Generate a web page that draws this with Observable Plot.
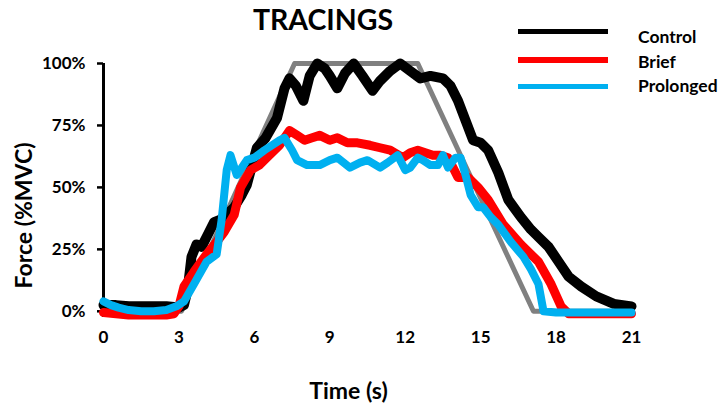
<!DOCTYPE html>
<html>
<head>
<meta charset="utf-8">
<script src="https://cdn.jsdelivr.net/npm/d3@7"></script>
<script src="https://cdn.jsdelivr.net/npm/@observablehq/plot@0.6"></script>
<style>
  html, body { margin: 0; padding: 0; background: #fff; }
  #wrap { position: relative; width: 722px; height: 406px; font-family: Lato, "Open Sans", sans-serif; }
  #title { position: absolute; left: 0; top: 3px; width: 646px; text-align: center; font-weight: bold; font-size: 28.5px; line-height: 32px; color: #000; }
  .legline { position: absolute; left: 518px; width: 90px; }
  .leglab { position: absolute; left: 638px; font-weight: bold; font-size: 17.5px; line-height: 20px; color: #000; white-space: nowrap; }
</style>
</head>
<body>
<div id="wrap"><div id="chart"></div></div>
<script>
// ----- data -----
const titleText = "TRACINGS";
const xLabel = "Time (s)";
const yLabel = "Force (%MVC)";
const xTicks = [0, 3, 6, 9, 12, 15, 18, 21];
const yTicks = [0, 25, 50, 75, 100];

const seriesNames = ["Control", "Brief", "Prolonged"];
const seriesColors = ["#000000", "#ff0000", "#00b0f0"];

const targetTime  = [0, 3.1, 7.6, 12.5, 17.1, 21];
const targetForce = [0, 0, 100, 100, 0, 0];

const controlTime  = [0, 0.5, 1, 1.5, 2, 2.5, 3, 3.2, 3.35, 3.5, 3.7, 3.9, 4.1, 4.4, 4.65, 5.0, 5.2, 5.5, 5.7, 6.1, 6.45, 6.9, 7.2, 7.4, 7.65, 7.95, 8.2, 8.5, 8.8, 9.0, 9.3, 9.6, 9.95, 10.3, 10.7, 11.0, 11.4, 11.8, 12.2, 12.6, 13.0, 13.5, 13.8, 14.1, 14.4, 14.7, 15.0, 15.3, 15.7, 16.1, 16.6, 17.0, 17.3, 17.7, 18.1, 18.5, 19.0, 19.6, 20.3, 21];
const controlForce = [2.5, 2.5, 2, 2, 2, 2, 1.5, 2.5, 9, 22, 27, 26, 30, 36, 37, 40, 42, 47, 51, 66, 70, 78, 90, 94, 91, 85, 95, 100, 98, 95, 90, 96, 100, 95, 89, 93, 97, 100, 97, 94, 95, 94, 91, 85, 77, 69, 68, 65, 56, 45, 38, 33, 30, 26, 20, 14, 10, 6, 3, 2];

const briefTime  = [0, 0.5, 1, 1.5, 2, 2.5, 2.8, 3.0, 3.2, 3.6, 4.1, 4.5, 4.8, 5.2, 5.45, 5.85, 6.2, 6.5, 7.0, 7.4, 7.7, 8.0, 8.3, 8.6, 9.0, 9.3, 9.7, 10.1, 10.6, 11.0, 11.4, 11.9, 12.2, 12.5, 12.8, 13.1, 13.4, 13.7, 13.9, 14.1, 14.5, 14.9, 15.3, 15.9, 16.6, 17.3, 17.8, 18.2, 18.5, 19, 20, 21];
const briefForce = [-0.5, -1, -1.5, -1.5, -1.5, -1.5, -1, 2, 10, 16, 23, 28, 32, 39, 50, 57, 59, 62, 67, 73, 71, 69, 70, 71, 69, 70, 68, 68, 67, 66, 65, 62, 64, 65, 64, 63, 63, 62, 58, 54, 54, 50, 45, 35, 27, 20, 11, 2, -1, -1, -1, -1];

const prolongedTime  = [0, 0.3, 0.6, 1, 1.5, 2, 2.5, 2.9, 3.2, 3.6, 4.1, 4.5, 4.7, 4.9, 5.05, 5.3, 5.7, 6.0, 6.4, 7.0, 7.2, 7.5, 7.7, 8.1, 8.6, 9.0, 9.3, 9.8, 10.2, 10.5, 11.0, 11.3, 11.7, 12.0, 12.2, 12.5, 12.7, 13.0, 13.3, 13.5, 13.7, 14.0, 14.2, 14.4, 14.6, 14.9, 15.1, 15.4, 15.7, 16.2, 16.7, 17.0, 17.3, 17.5, 18, 19, 20, 21];
const prolongedForce = [4, 2.5, 1.5, 0.5, 0, 0, 0.5, 2, 4, 11, 20, 23, 37, 57, 63, 55, 61, 62, 65, 69, 70, 65, 61, 59, 59, 61, 62, 58, 60, 61, 58, 60, 63, 57, 58, 62, 61, 59, 59, 63, 58, 62, 62, 55, 47, 42, 42, 38, 35, 28, 22, 17, 11, 0, -0.5, -0.5, -0.5, -0.5];

// ----- build tables -----
const zip = (ts, vs) => ts.map((t, i) => ({t, v: vs[i]}));
const target = zip(targetTime, targetForce);
const series = [zip(controlTime, controlForce), zip(briefTime, briefForce), zip(prolongedTime, prolongedForce)];
const widths = [10, 9, 8];

const lineMarks = series.map((d, i) => Plot.line(d, {
  x: "t", y: "v", stroke: seriesColors[i], strokeWidth: widths[i],
  strokeLinejoin: "round", strokeLinecap: "round"
}));

const chart = Plot.plot({
  width: 722,
  height: 406,
  marginLeft: 103,
  marginRight: 91,
  marginTop: 63,
  marginBottom: 89,
  style: { fontFamily: "Lato, 'Open Sans', sans-serif", fontWeight: "bold", color: "#000", background: "#fff" },
  x: { domain: [0, 21] },
  y: { domain: [-2.5, 100] },
  marks: [
    Plot.ruleX([0], { y1: -2.5, y2: 100, stroke: "#000", strokeWidth: 3 }),
    Plot.axisY({ ticks: yTicks, tickFormat: d => d + "%", tickSize: 6, tickPadding: 12, fontSize: 17, fontWeight: "bold", stroke: "#000", strokeWidth: 2.5, label: null }),
    Plot.axisX({ ticks: xTicks, tickSize: 0, tickPadding: 13, fontSize: 17, fontWeight: "bold", label: null }),
    Plot.text([yLabel], { text: d => d, frameAnchor: "left", textAnchor: "middle", lineAnchor: "middle", rotate: -90, dx: -79, dy: 25, fontSize: 23, fontWeight: "bold", fill: "#000" }),
    Plot.text([xLabel], { text: d => d, frameAnchor: "bottom", textAnchor: "middle", lineAnchor: "middle", dx: -19, dy: 74, fontSize: 23, fontWeight: "bold", fill: "#000" }),
    Plot.line(target, { x: "t", y: "v", stroke: "#808080", strokeWidth: 5, strokeLinejoin: "round" }),
    ...lineMarks
  ]
});
document.getElementById("chart").appendChild(chart);

// ----- title and legend -----
const wrap = document.getElementById("wrap");
const title = document.createElement("div");
title.id = "title";
title.textContent = titleText;
wrap.appendChild(title);

const legTops = [29, 57, 84];
const legHeights = [5, 6, 5];
const labCenters = [37, 62, 86];
seriesNames.forEach((name, i) => {
  const ln = document.createElement("div");
  ln.className = "legline";
  ln.style.top = legTops[i] + "px";
  ln.style.height = legHeights[i] + "px";
  ln.style.background = seriesColors[i];
  wrap.appendChild(ln);
  const lb = document.createElement("div");
  lb.className = "leglab";
  lb.style.top = (labCenters[i] - 10) + "px";
  lb.textContent = name;
  wrap.appendChild(lb);
});
</script>
</body>
</html>
